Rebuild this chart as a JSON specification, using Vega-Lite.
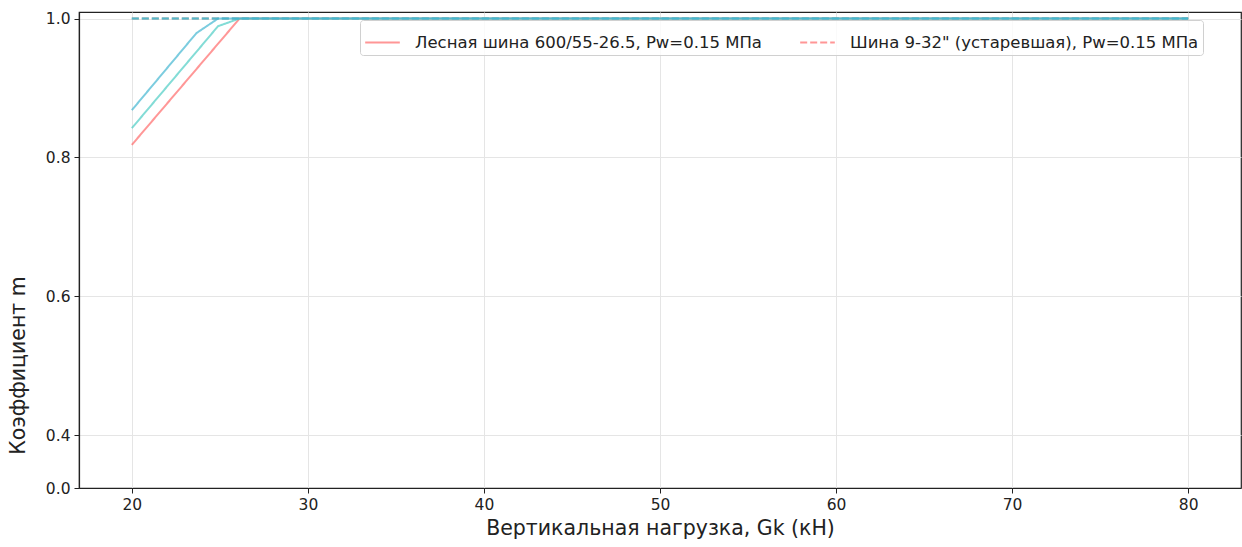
{
  "$schema": "https://vega.github.io/schema/vega-lite/v6.json",
  "width": 1162,
  "height": 476,
  "autosize": {"type": "none"},
  "padding": {"left": 79, "top": 12, "right": 1, "bottom": 59},
  "background": "white",
  "config": {
    "font": "DejaVu Sans",
    "view": {"stroke": "#222", "strokeWidth": 1.2},
    "axis": {
      "domainColor": "#222",
      "domainWidth": 1.2,
      "tickColor": "#222",
      "tickSize": 5,
      "labelFontSize": 15.5,
      "labelColor": "#222",
      "labelPadding": 4,
      "titleFontSize": 20.5,
      "titleFontWeight": "normal",
      "titleColor": "#222",
      "gridColor": "#e5e5e5",
      "gridWidth": 1
    }
  },
  "data": {
    "values": [
      {"Gk": 20, "m": 0.818, "tire": "Лесная шина 600/55-26.5, Pw=0.15 МПа", "p": "a"},
      {"Gk": 26.12, "m": 1.0, "tire": "Лесная шина 600/55-26.5, Pw=0.15 МПа", "p": "a"},
      {"Gk": 80, "m": 1.0, "tire": "Лесная шина 600/55-26.5, Pw=0.15 МПа", "p": "a"},
      {"Gk": 20, "m": 1.0, "tire": "Шина 9-32\" (устаревшая), Pw=0.15 МПа", "p": "a"},
      {"Gk": 80, "m": 1.0, "tire": "Шина 9-32\" (устаревшая), Pw=0.15 МПа", "p": "a"},
      {"Gk": 20, "m": 0.842, "tire": "Лесная шина 600/55-26.5, Pw=0.15 МПа", "p": "b"},
      {"Gk": 24.9, "m": 0.989, "tire": "Лесная шина 600/55-26.5, Pw=0.15 МПа", "p": "b"},
      {"Gk": 26.12, "m": 1.0, "tire": "Лесная шина 600/55-26.5, Pw=0.15 МПа", "p": "b"},
      {"Gk": 80, "m": 1.0, "tire": "Лесная шина 600/55-26.5, Pw=0.15 МПа", "p": "b"},
      {"Gk": 20, "m": 1.0, "tire": "Шина 9-32\" (устаревшая), Pw=0.15 МПа", "p": "b"},
      {"Gk": 80, "m": 1.0, "tire": "Шина 9-32\" (устаревшая), Pw=0.15 МПа", "p": "b"},
      {"Gk": 20, "m": 0.868, "tire": "Лесная шина 600/55-26.5, Pw=0.15 МПа", "p": "c"},
      {"Gk": 23.67, "m": 0.979, "tire": "Лесная шина 600/55-26.5, Pw=0.15 МПа", "p": "c"},
      {"Gk": 24.9, "m": 1.0, "tire": "Лесная шина 600/55-26.5, Pw=0.15 МПа", "p": "c"},
      {"Gk": 80, "m": 1.0, "tire": "Лесная шина 600/55-26.5, Pw=0.15 МПа", "p": "c"},
      {"Gk": 20, "m": 1.0, "tire": "Шина 9-32\" (устаревшая), Pw=0.15 МПа", "p": "c"},
      {"Gk": 80, "m": 1.0, "tire": "Шина 9-32\" (устаревшая), Pw=0.15 МПа", "p": "c"}
    ]
  },
  "mark": {"type": "line", "strokeWidth": 2, "opacity": 0.7, "clip": true},
  "encoding": {
    "x": {
      "field": "Gk",
      "type": "quantitative",
      "scale": {"domain": [17, 83], "nice": false, "zero": false},
      "axis": {"values": [20, 30, 40, 50, 60, 70, 80], "title": "Вертикальная нагрузка, Gk (кН)", "titlePadding": 6, "grid": true}
    },
    "y": {
      "field": "m",
      "type": "quantitative",
      "scale": {"domain": [0.3237, 1.0094], "nice": false, "zero": false},
      "axis": {
        "values": [0.3237, 0.4, 0.6, 0.8, 1.0],
        "labelExpr": "datum.value < 0.35 ? '0.0' : format(datum.value, '.1f')",
        "title": "Коэффициент m",
        "titleX": -61,
        "titleY": 353,
        "titleAngle": -90,
        "titleAlign": "center",
        "titleBaseline": "middle",
        "grid": true
      }
    },
    "color": {
      "field": "p",
      "type": "nominal",
      "scale": {"domain": ["a", "b", "c"], "range": ["#FF6B6B", "#4ECDC4", "#45B7D1"]},
      "legend": null
    },
    "strokeDash": {
      "field": "tire",
      "type": "nominal",
      "scale": {
        "domain": ["Лесная шина 600/55-26.5, Pw=0.15 МПа", "Шина 9-32\" (устаревшая), Pw=0.15 МПа"],
        "range": [[1, 0], [7, 3]]
      },
      "legend": {
        "title": null,
        "orient": "none",
        "legendX": 281,
        "legendY": 8,
        "direction": "horizontal",
        "columns": 2,
        "columnPadding": 34,
        "symbolType": "stroke",
        "symbolSize": 1200,
        "symbolStrokeColor": "#FF6B6B",
        "symbolOpacity": 0.7,
        "symbolStrokeWidth": 2,
        "labelFontSize": 16.5,
        "labelColor": "#222",
        "labelOffset": 14,
        "labelLimit": 500,
        "padding": 4,
        "strokeColor": "#d0d0d0",
        "fillColor": "rgba(255,255,255,0.8)",
        "cornerRadius": 3
      }
    },
    "order": {"field": "p"}
  }
}
